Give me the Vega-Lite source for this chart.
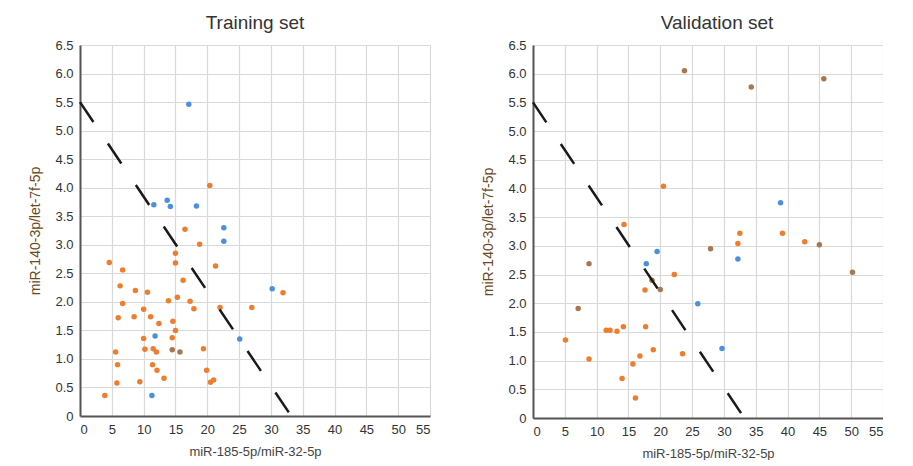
{
  "$schema": "https://vega.github.io/schema/vega-lite/v6.json",
  "padding": {"left": 28, "top": 14, "right": 0, "bottom": 0},
  "background": "white",
  "config": {
    "font": "Liberation Sans",
    "view": {"stroke": null},
    "concat": {"spacing": 51},
    "axis": {"labelFont": "Liberation Sans", "labelFontSize": 13, "labelColor": "#333", "gridColor": "#d9d9d9", "gridWidth": 1.2, "domainColor": "#555", "domainWidth": 2, "ticks": false, "labelPadding": 7, "titleFontWeight": "normal", "titleFont": "Liberation Sans"},
    "title": {"fontSize": 19, "fontWeight": "normal", "color": "#333", "font": "Liberation Sans", "offset": 6}
  },
  "datasets": {
    "train": [
      {"x": 20.4, "y": 4.04, "g": "a"}, {"x": 16.5, "y": 3.27, "g": "a"}, {"x": 18.8, "y": 3.01, "g": "a"}, {"x": 15.0, "y": 2.85, "g": "a"},
      {"x": 15.0, "y": 2.68, "g": "a"}, {"x": 4.6, "y": 2.69, "g": "a"}, {"x": 21.3, "y": 2.63, "g": "a"}, {"x": 6.7, "y": 2.56, "g": "a"},
      {"x": 16.2, "y": 2.38, "g": "a"}, {"x": 6.3, "y": 2.28, "g": "a"}, {"x": 8.7, "y": 2.20, "g": "a"}, {"x": 10.6, "y": 2.17, "g": "a"},
      {"x": 15.3, "y": 2.08, "g": "a"}, {"x": 13.9, "y": 2.02, "g": "a"}, {"x": 17.3, "y": 2.01, "g": "a"}, {"x": 6.7, "y": 1.97, "g": "a"},
      {"x": 17.9, "y": 1.88, "g": "a"}, {"x": 22.0, "y": 1.90, "g": "a"}, {"x": 27.0, "y": 1.90, "g": "a"}, {"x": 10.0, "y": 1.87, "g": "a"},
      {"x": 6.0, "y": 1.72, "g": "a"}, {"x": 8.5, "y": 1.74, "g": "a"}, {"x": 11.1, "y": 1.74, "g": "a"}, {"x": 12.4, "y": 1.62, "g": "a"},
      {"x": 14.6, "y": 1.66, "g": "a"}, {"x": 15.0, "y": 1.50, "g": "a"}, {"x": 10.0, "y": 1.36, "g": "a"}, {"x": 14.5, "y": 1.37, "g": "a"},
      {"x": 5.6, "y": 1.12, "g": "a"}, {"x": 10.2, "y": 1.17, "g": "a"}, {"x": 11.5, "y": 1.18, "g": "a"}, {"x": 12.0, "y": 1.12, "g": "a"},
      {"x": 19.4, "y": 1.18, "g": "a"}, {"x": 5.9, "y": 0.90, "g": "a"}, {"x": 11.4, "y": 0.90, "g": "a"}, {"x": 12.1, "y": 0.80, "g": "a"},
      {"x": 13.2, "y": 0.66, "g": "a"}, {"x": 19.9, "y": 0.80, "g": "a"}, {"x": 21.0, "y": 0.63, "g": "a"}, {"x": 20.5, "y": 0.59, "g": "a"},
      {"x": 5.8, "y": 0.58, "g": "a"}, {"x": 9.4, "y": 0.60, "g": "a"}, {"x": 3.9, "y": 0.36, "g": "a"}, {"x": 31.9, "y": 2.16, "g": "a"},
      {"x": 17.1, "y": 5.46, "g": "b"}, {"x": 11.6, "y": 3.70, "g": "b"}, {"x": 13.7, "y": 3.78, "g": "b"}, {"x": 14.2, "y": 3.67, "g": "b"},
      {"x": 18.3, "y": 3.68, "g": "b"}, {"x": 22.6, "y": 3.30, "g": "b"}, {"x": 22.6, "y": 3.06, "g": "b"}, {"x": 11.8, "y": 1.40, "g": "b"},
      {"x": 25.1, "y": 1.35, "g": "b"}, {"x": 11.3, "y": 0.36, "g": "b"}, {"x": 30.2, "y": 2.23, "g": "b"},
      {"x": 14.5, "y": 1.16, "g": "c"}, {"x": 15.7, "y": 1.12, "g": "c"}
    ],
    "valid": [
      {"x": 20.5, "y": 4.04, "g": "a"}, {"x": 14.3, "y": 3.37, "g": "a"}, {"x": 22.2, "y": 2.50, "g": "a"}, {"x": 17.6, "y": 2.23, "g": "a"},
      {"x": 11.5, "y": 1.53, "g": "a"}, {"x": 12.1, "y": 1.53, "g": "a"}, {"x": 13.2, "y": 1.51, "g": "a"}, {"x": 14.2, "y": 1.59, "g": "a"},
      {"x": 17.7, "y": 1.59, "g": "a"}, {"x": 5.1, "y": 1.36, "g": "a"}, {"x": 18.9, "y": 1.19, "g": "a"}, {"x": 23.5, "y": 1.12, "g": "a"},
      {"x": 8.8, "y": 1.03, "g": "a"}, {"x": 16.8, "y": 1.08, "g": "a"}, {"x": 15.7, "y": 0.94, "g": "a"}, {"x": 14.0, "y": 0.69, "g": "a"},
      {"x": 16.1, "y": 0.35, "g": "a"}, {"x": 32.5, "y": 3.22, "g": "a"}, {"x": 39.2, "y": 3.22, "g": "a"}, {"x": 32.2, "y": 3.04, "g": "a"},
      {"x": 42.7, "y": 3.07, "g": "a"},
      {"x": 19.5, "y": 2.90, "g": "b"}, {"x": 17.8, "y": 2.69, "g": "b"}, {"x": 25.9, "y": 1.99, "g": "b"}, {"x": 32.2, "y": 2.77, "g": "b"},
      {"x": 29.7, "y": 1.21, "g": "b"}, {"x": 38.9, "y": 3.75, "g": "b"},
      {"x": 23.8, "y": 6.05, "g": "c"}, {"x": 34.3, "y": 5.77, "g": "c"}, {"x": 45.7, "y": 5.91, "g": "c"}, {"x": 45.0, "y": 3.02, "g": "c"},
      {"x": 27.9, "y": 2.95, "g": "c"}, {"x": 50.2, "y": 2.54, "g": "c"}, {"x": 8.8, "y": 2.69, "g": "c"}, {"x": 18.7, "y": 2.40, "g": "c"},
      {"x": 20.0, "y": 2.24, "g": "c"}, {"x": 7.1, "y": 1.91, "g": "c"}
    ],
    "cutoff": [{"x": 0, "y": 5.5}, {"x": 33.2, "y": 0}]
  },
  "hconcat": [
    {
      "title": {"text": "Training set"},
      "width": 350,
      "height": 371,
      "encoding": {
        "x": {"field": "x", "type": "quantitative", "scale": {"domain": [0, 55], "nice": false},
          "axis": {"values": [0, 5, 10, 15, 20, 25, 30, 35, 40, 45, 50, 55], "title": "miR-185-5p/miR-32-5p", "titleFontSize": 13, "titleColor": "#444", "titlePadding": 9}},
        "y": {"field": "y", "type": "quantitative", "scale": {"domain": [0, 6.5], "nice": false},
          "axis": {"values": [0, 0.5, 1, 1.5, 2, 2.5, 3, 3.5, 4, 4.5, 5, 5.5, 6, 6.5], "labelExpr": "datum.value == 0 ? '0' : format(datum.value, '.1f')", "title": "miR-140-3p/let-7f-5p", "titleFontSize": 14, "titleColor": "#6b4a1e", "titlePadding": 12}}
      },
      "layer": [
        {
          "data": {"name": "train"},
          "mark": {"type": "circle", "size": 30, "opacity": 1},
          "encoding": {
            "color": {"field": "g", "type": "nominal", "scale": {"domain": ["a", "b", "c"], "range": ["#ee7d2d", "#4a90dd", "#a8774f"]}, "legend": null}
          }
        },
        {
          "data": {"name": "cutoff"},
          "mark": {"type": "line", "strokeDash": [24, 26], "strokeWidth": 2.5, "color": "#1a1a1a"},
          "encoding": {}
        }
      ]
    },
    {
      "title": {"text": "Validation set", "dx": 9},
      "width": 350,
      "height": 373,
      "encoding": {
        "x": {"field": "x", "type": "quantitative", "scale": {"domain": [0, 55], "nice": false},
          "axis": {"values": [0, 5, 10, 15, 20, 25, 30, 35, 40, 45, 50, 55], "title": "miR-185-5p/miR-32-5p", "titleFontSize": 13, "titleColor": "#444", "titlePadding": 9}},
        "y": {"field": "y", "type": "quantitative", "scale": {"domain": [0, 6.5], "nice": false},
          "axis": {"values": [0, 0.5, 1, 1.5, 2, 2.5, 3, 3.5, 4, 4.5, 5, 5.5, 6, 6.5], "labelExpr": "datum.value == 0 ? '0' : format(datum.value, '.1f')", "title": "miR-140-3p/let-7f-5p", "titleFontSize": 14, "titleColor": "#6b4a1e", "titlePadding": 12}}
      },
      "layer": [
        {
          "data": {"name": "valid"},
          "mark": {"type": "circle", "size": 30, "opacity": 1},
          "encoding": {
            "color": {"field": "g", "type": "nominal", "scale": {"domain": ["a", "b", "c"], "range": ["#ee7d2d", "#4a90dd", "#a8774f"]}, "legend": null}
          }
        },
        {
          "data": {"name": "cutoff"},
          "mark": {"type": "line", "strokeDash": [24, 26], "strokeWidth": 2.5, "color": "#1a1a1a"},
          "encoding": {}
        }
      ]
    }
  ]
}
